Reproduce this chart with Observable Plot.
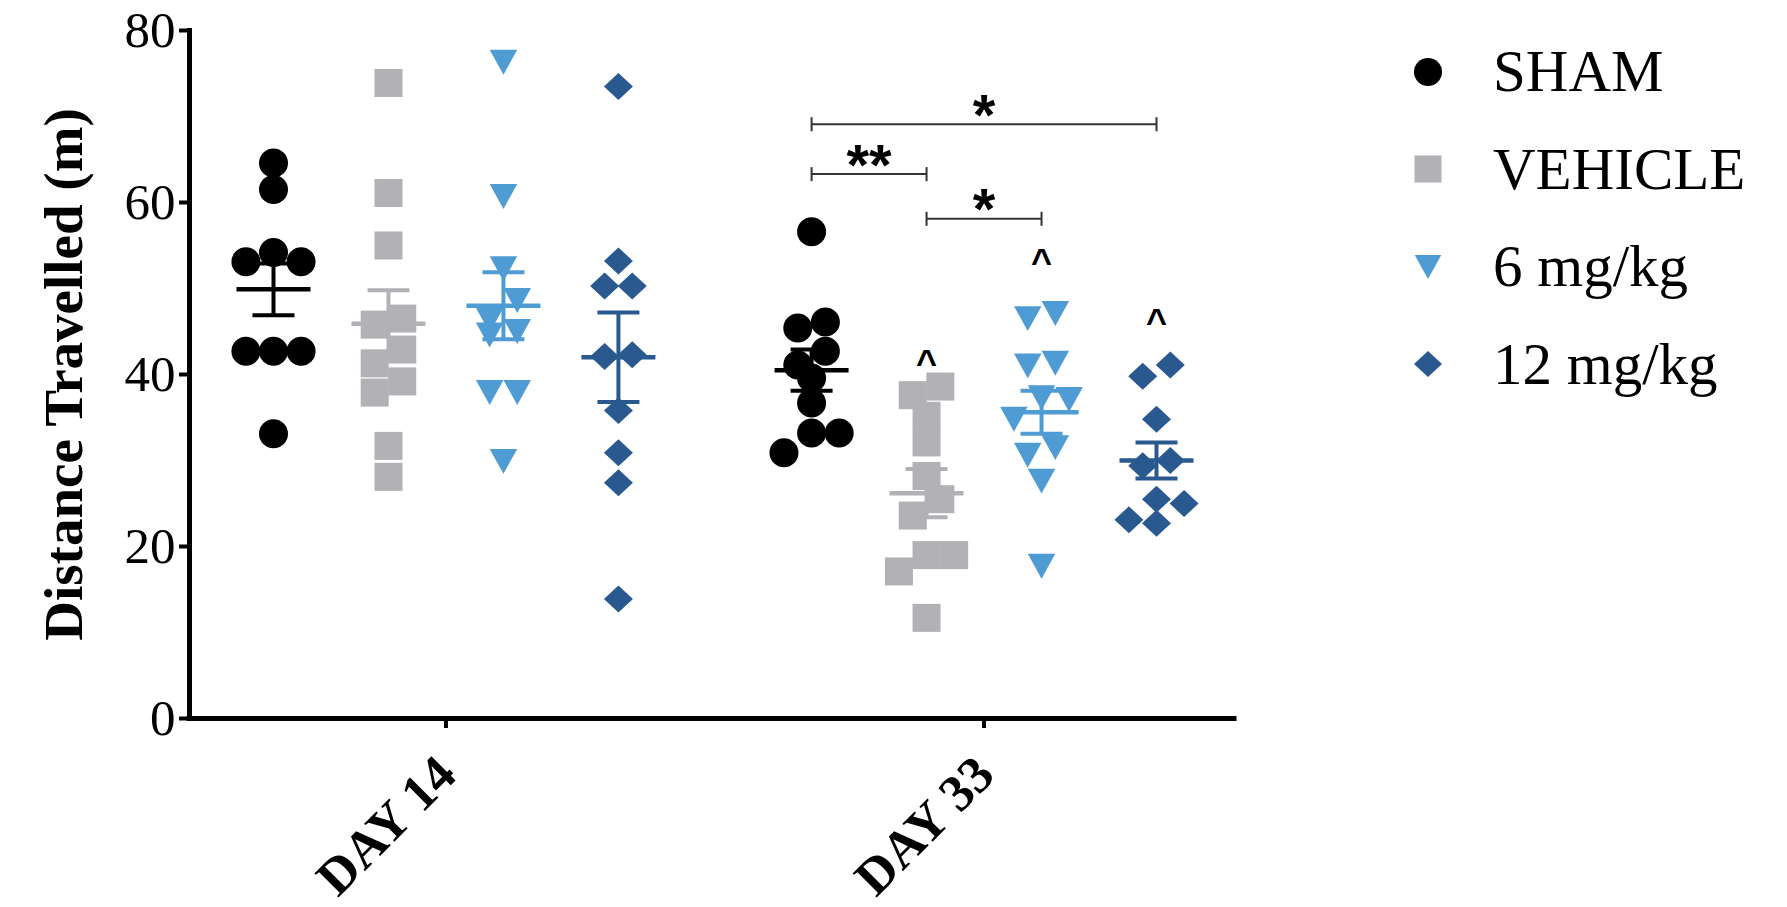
<!DOCTYPE html>
<html>
<head>
<meta charset="utf-8">
<script src="https://cdn.jsdelivr.net/npm/d3@7"></script>
<script src="https://cdn.jsdelivr.net/npm/@observablehq/plot@0.6"></script>
<style>
  html, body { margin: 0; padding: 0; background: #fff; overflow: hidden; }
  #wrap { position: relative; width: 1787px; height: 907px; }
  #legend { position: absolute; left: 1411px; top: 23px; font-family: "Liberation Serif", serif; font-size: 59px; color: #000; }
  #legend .row { display: flex; align-items: center; height: 97.5px; }
  #legend .row svg { width: 34px; height: 34px; flex: none; }
  #legend .row span { margin-left: 48px; white-space: nowrap; }
</style>
</head>
<body>
<div id="wrap"><div id="chart"></div><div id="legend"></div></div>
<script>
// ---------------- data ----------------
const days = ["DAY 14", "DAY 33"];
const groups = ["SHAM", "VEHICLE", "6 mg/kg", "12 mg/kg"];
const groupColors = ["#000000", "#b2b2b6", "#4f9bd4", "#29598f"];

const day14Sham    = [64.6, 61.5, 54.2, 53.1, 53.1, 42.7, 42.7, 42.7, 33.1];
const day14Vehicle = [73.9, 61.1, 55.0, 46.5, 45.8, 42.9, 41.3, 39.2, 37.9, 31.7, 28.1];
const day14Mg6     = [76.3, 60.7, 52.3, 48.6, 46.3, 45.0, 44.6, 37.9, 37.9, 29.9];
const day14Mg12    = [73.5, 53.2, 50.3, 50.3, 42.3, 42.1, 35.8, 30.9, 27.4, 13.9];
const day33Sham    = [56.6, 46.1, 45.4, 42.7, 41.1, 39.6, 36.7, 33.2, 33.2, 30.9];
const day33Vehicle = [38.6, 37.6, 35.2, 32.1, 28.2, 25.5, 23.6, 19.0, 19.0, 17.1, 11.7];
const day33Mg6     = [47.1, 46.5, 41.3, 41.0, 37.3, 37.1, 34.8, 31.5, 30.6, 27.6, 17.7];
const day33Mg12    = [41.1, 39.8, 34.8, 30.0, 29.4, 25.5, 25.0, 23.1, 22.7];

const day14Mean = [49.9, 45.9, 48.0, 42.0];
const day14Sem  = [3.0, 3.9, 3.9, 5.2];
const day33Mean = [40.5, 26.2, 35.6, 30.0];
const day33Sem  = [2.4, 2.8, 2.5, 2.1];

const sigDay   = "DAY 33";
const sigFrom  = ["SHAM", "SHAM", "VEHICLE"];
const sigTo    = ["12 mg/kg", "VEHICLE", "6 mg/kg"];
const sigLevel = [69.1, 63.3, 58.1];
const sigText  = ["*", "**", "*"];
const caretGroups = ["VEHICLE", "6 mg/kg", "12 mg/kg"];
const caretLevel  = [41.5, 53.3, 46.3];

const yTicks = [0, 20, 40, 60, 80];
const yLabel = "Distance Travelled (m)";

// ---------------- layout helpers ----------------
const DAY_SPACING = 4.68;          // distance between day clusters, in group slots
const seriesByDay = [[day14Sham, day14Vehicle, day14Mg6, day14Mg12], [day33Sham, day33Vehicle, day33Mg6, day33Mg12]];
const meanByDay = [day14Mean, day33Mean];
const semByDay = [day14Sem, day33Sem];
const slot = (day, group) => days.indexOf(day) * DAY_SPACING + groups.indexOf(group);
const dayCenters = days.map((d, i) => i * DAY_SPACING + (groups.length - 1) / 2);

// scatter-dot-plot spread: overlapping values are laid side by side
function spreadOffsets(values, gap = 2.6, step = 0.24) {
  const order = d3.range(values.length).sort((a, b) => values[b] - values[a]);
  const off = new Array(values.length).fill(0);
  let row = [];
  const flush = () => {
    const n = row.length;
    const slots = d3.range(n).map(k => k - (n - 1) / 2).sort((a, b) => Math.abs(a) - Math.abs(b) || b - a);
    row.forEach((i, k) => off[i] = slots[k] * step);
    row = [];
  };
  for (const i of order) {
    if (row.length && values[row[0]] - values[i] > gap) flush();
    row.push(i);
  }
  flush();
  return off;
}

const points = days.flatMap((day, di) => groups.flatMap((group, gi) => {
  const vals = seriesByDay[di][gi];
  const off = spreadOffsets(vals);
  return vals.map((value, k) => ({day, group, value, x: slot(day, group) + off[k]}));
}));
const stats = days.flatMap((day, di) => groups.map((group, gi) => ({
  day, group, x: slot(day, group), mean: meanByDay[di][gi], sem: semByDay[di][gi]
})));
const sig = sigFrom.map((f, i) => ({x1: slot(sigDay, f), x2: slot(sigDay, sigTo[i]), y: sigLevel[i], text: sigText[i]}));
const carets = caretGroups.map((g, i) => ({x: slot(sigDay, g), y: caretLevel[i]}));

// ---------------- symbols ----------------
const unit = size => Math.sqrt(size / Math.PI);
const circleSym = {draw(c, size) { const s = unit(size); c.moveTo(s, 0); c.arc(0, 0, s, 0, 2 * Math.PI); c.closePath(); }};
const squareSym = {draw(c, size) { const s = unit(size) * 0.966; c.rect(-s, -s, 2 * s, 2 * s); }};
const triDownSym = {draw(c, size) { const s = unit(size), w = s * 0.95, h = s * 0.86; c.moveTo(-w, -h); c.lineTo(w, -h); c.lineTo(0, h); c.closePath(); }};
const diamondSym = {draw(c, size) { const s = unit(size), w = s, h = s * 0.93; c.moveTo(0, -h); c.lineTo(w, 0); c.lineTo(0, h); c.lineTo(-w, 0); c.closePath(); }};
const groupSymbols = [circleSym, squareSym, triDownSym, diamondSym];
const hBar = w => ({draw(c) { c.moveTo(-w, 0); c.lineTo(w, 0); }});
const vTick = h => ({draw(c) { c.moveTo(0, -h); c.lineTo(0, h); }});

// ---------------- chart ----------------
const serif = "'Liberation Serif', 'Times New Roman', serif";
const sans = "'Liberation Sans', Arial, sans-serif";
const xMax = (days.length - 1) * DAY_SPACING + groups.length - 1;
const marks = [
  Plot.frame({anchor: "left", strokeWidth: 5, strokeLinecap: "square"}),
  Plot.ruleY([0], {strokeWidth: 5, strokeLinecap: "square"}),
  Plot.axisY({ticks: yTicks, tickSize: 10, tickPadding: 4, strokeWidth: 4, fontSize: 51, fontFamily: serif, label: null}),
  Plot.axisY({ticks: [], tickSize: 0, label: yLabel, labelAnchor: "center", labelArrow: "none", labelOffset: 147,
    fontSize: 55, fontWeight: "bold", fontFamily: serif}),
  Plot.axisX({ticks: dayCenters, tickSize: 10, strokeWidth: 4, fill: "none", label: null}),
  Plot.axisX({ticks: dayCenters, tickSize: 0, tickPadding: 47, tickRotate: -45, dx: 1,
    tickFormat: d => days[dayCenters.indexOf(d)], fontSize: 52, fontWeight: "bold", fontFamily: serif, label: null})
];
groups.forEach((g, gi) => {
  marks.push(Plot.dot(points.filter(d => d.group === g), {x: "x", y: "value", r: 14.5, symbol: groupSymbols[gi], fill: groupColors[gi], stroke: "none"}));
});
groups.forEach((g, gi) => {
  const s = stats.filter(d => d.group === g);
  const col = groupColors[gi];
  marks.push(
    Plot.ruleX(s, {x: "x", y1: d => d.mean - d.sem, y2: d => d.mean + d.sem, stroke: col, strokeWidth: 4}),
    Plot.dot(s, {x: "x", y: "mean", r: 1, symbol: hBar(37), fill: "none", stroke: col, strokeWidth: 4.5}),
    Plot.dot(s, {x: "x", y: d => d.mean - d.sem, r: 1, symbol: hBar(21), fill: "none", stroke: col, strokeWidth: 4}),
    Plot.dot(s, {x: "x", y: d => d.mean + d.sem, r: 1, symbol: hBar(21), fill: "none", stroke: col, strokeWidth: 4})
  );
});
marks.push(
  Plot.ruleY(sig, {x1: "x1", x2: "x2", y: "y", stroke: "#333", strokeWidth: 2}),
  Plot.dot(sig, {x: "x1", y: "y", r: 1, symbol: vTick(7), fill: "none", stroke: "#333", strokeWidth: 2}),
  Plot.dot(sig, {x: "x2", y: "y", r: 1, symbol: vTick(7), fill: "none", stroke: "#333", strokeWidth: 2}),
  Plot.text(sig, {x: d => (d.x1 + d.x2) / 2, y: "y", text: "text", fontFamily: sans, fontWeight: "bold", fontSize: 58, dy: -8}),
  Plot.text(carets, {x: "x", y: "y", text: () => "^", fontFamily: sans, fontWeight: "bold", fontSize: 36, dy: 2})
);

const chart = Plot.plot({
  width: 1380, height: 907,
  marginLeft: 189, marginRight: 146, marginTop: 30, marginBottom: 189,
  x: {domain: [0, xMax], insetLeft: 84, insetRight: 78},
  y: {domain: [0, 80]},
  style: {background: "white", fontFamily: serif, color: "black", overflow: "visible"},
  marks
});
document.getElementById("chart").appendChild(chart);

// ---------------- legend ----------------
const legend = document.getElementById("legend");
groups.forEach((g, gi) => {
  const p = d3.path();
  groupSymbols[gi].draw(p, Math.PI * 14 * 14);
  const row = document.createElement("div");
  row.className = "row";
  row.innerHTML = `<svg viewBox="-17 -17 34 34"><path d="${p}" fill="${groupColors[gi]}"></path></svg><span>${g}</span>`;
  legend.appendChild(row);
});
</script>
</body>
</html>
